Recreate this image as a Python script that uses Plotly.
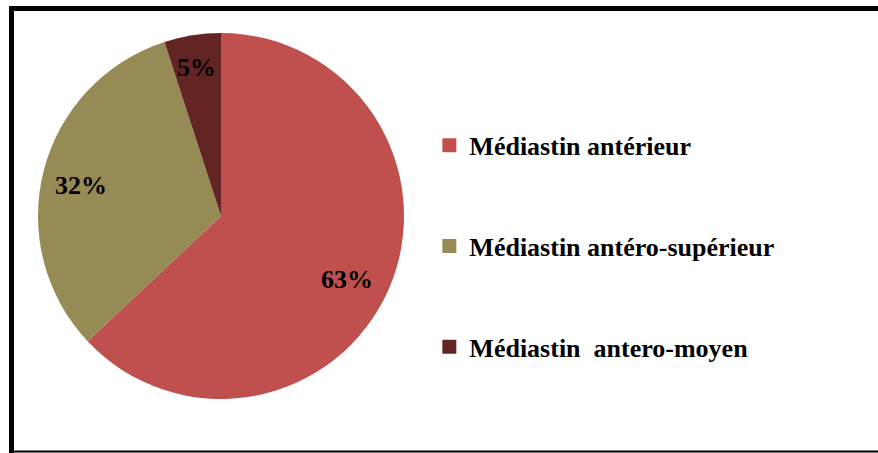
import math
import plotly.graph_objects as go

categories = ["Médiastin antérieur", "Médiastin antéro-supérieur", "Médiastin  antero-moyen"]
values = [63, 32, 5]
colors = ["#C0504D", "#968B54", "#632523"]

W, H = 878, 453
cx, cy, r = 221, 216, 183
# small pixel nudges for the percentage labels (Excel best-fit placement)
label_nudge = [(-7, 6), (0, 5), (-2, -6)]

fig = go.Figure()
fig.add_trace(go.Pie(
    labels=categories, values=values, sort=False, direction="clockwise", rotation=0,
    marker=dict(colors=colors, line=dict(width=0)),
    textinfo="none",
    showlegend=False, hoverinfo="label+percent",
    domain=dict(x=[(cx - r) / W, (cx + r) / W], y=[(H - cy - r) / H, (H - cy + r) / H]),
))

total = sum(values)
annotations = []
cum = 0
for v, (nx, ny) in zip(values, label_nudge):
    ang = 2 * math.pi * (cum + v / 2) / total
    cum += v
    px = cx + 0.79 * r * math.sin(ang) + nx
    py = cy - 0.79 * r * math.cos(ang) + ny
    annotations.append(dict(
        x=px / W, y=1 - py / H, xref="paper", yref="paper", showarrow=False,
        text=f"{v}%", xanchor="center", yanchor="middle",
        font=dict(family="Liberation Serif", size=26, color="black", weight="bold"),
    ))

for i, (c, col) in enumerate(zip(categories, colors)):
    fig.add_trace(go.Scatter(
        x=[None], y=[None], mode="markers", name=c, legendgroup=str(i),
        marker=dict(symbol="square", size=14, color=col, line=dict(width=0)),
        showlegend=True,
    ))

fig.update_layout(
    width=W, height=H, margin=dict(l=0, r=0, t=0, b=0),
    paper_bgcolor="white", plot_bgcolor="white",
    xaxis=dict(visible=False), yaxis=dict(visible=False),
    annotations=annotations,
    legend=dict(x=0.489, y=0.731, xanchor="left", yanchor="top",
                font=dict(family="Liberation Serif", size=26, color="black", weight="bold"),
                tracegroupgap=64, itemsizing="trace", itemwidth=30,
                bgcolor="rgba(0,0,0,0)"),
    shapes=[
        dict(type="path", xref="paper", yref="paper",
             path=f"M {11.5/W},0 L {11.5/W},{1-8.5/H} L 1,{1-8.5/H}",
             line=dict(color="black", width=5)),
        dict(type="line", xref="paper", yref="paper", x0=11.5 / W, x1=1, y0=1.5 / H, y1=1.5 / H,
             line=dict(color="black", width=2)),
    ],
)
fig.write_html("out.html")
